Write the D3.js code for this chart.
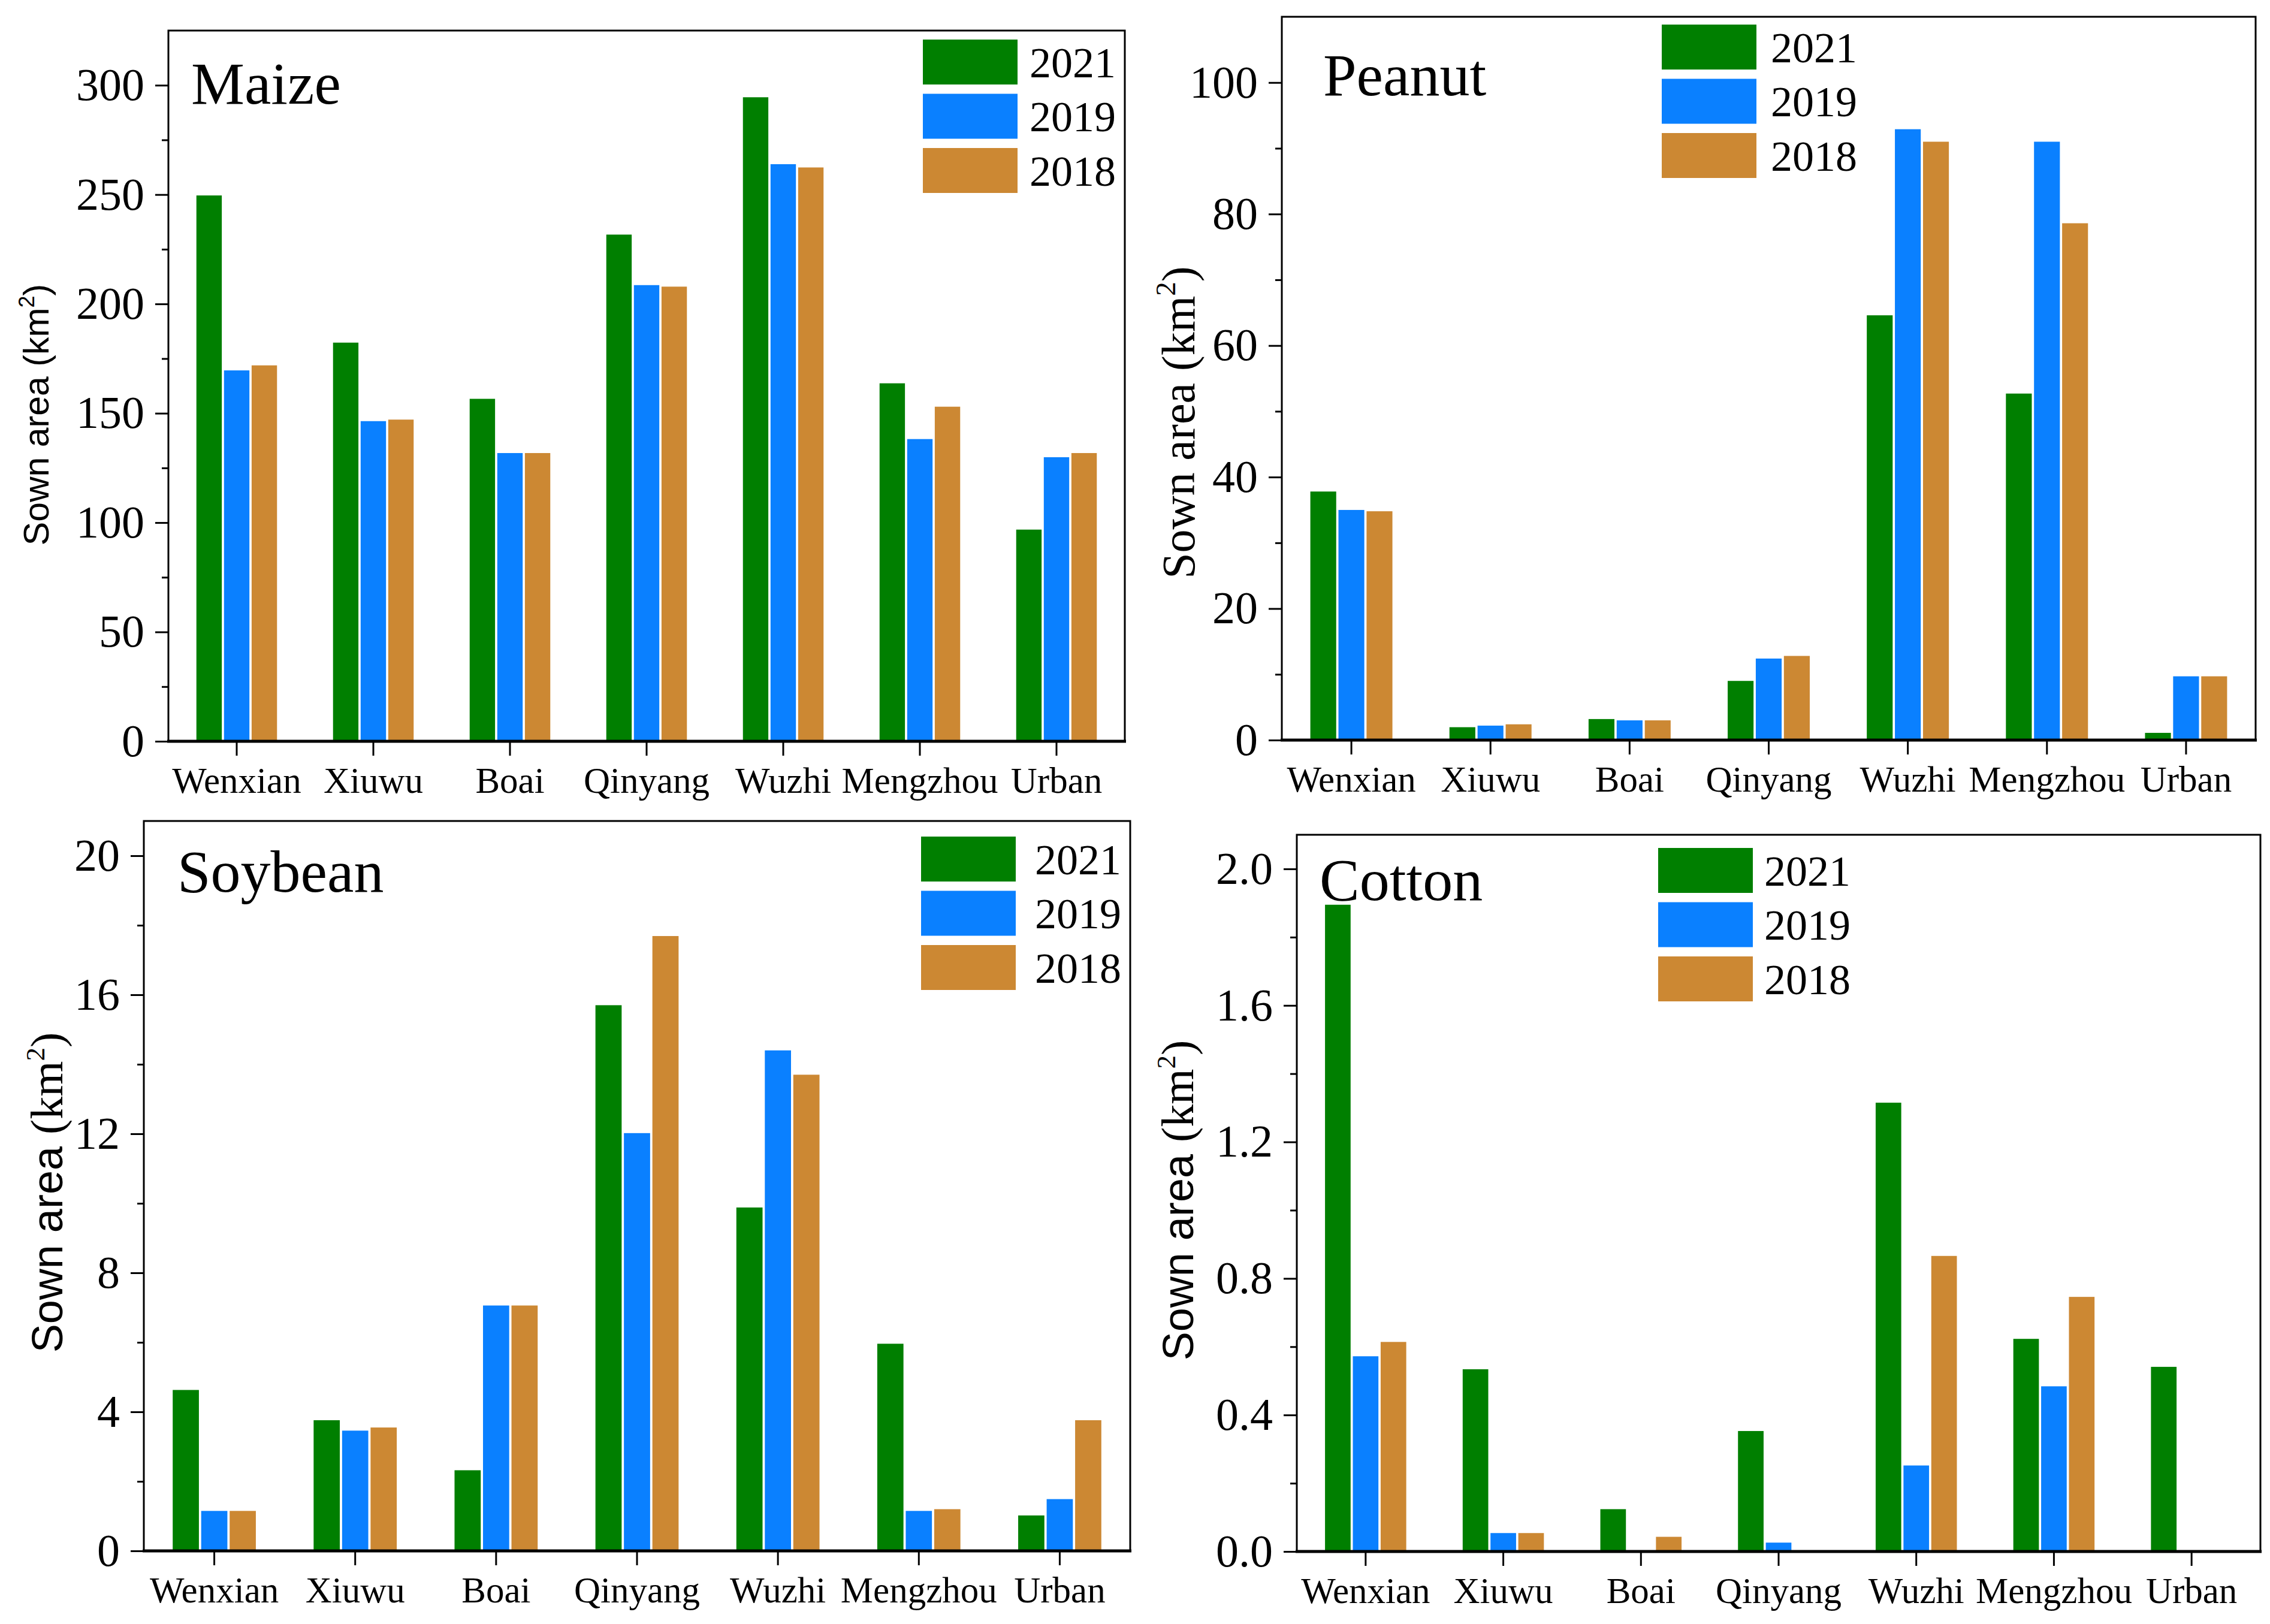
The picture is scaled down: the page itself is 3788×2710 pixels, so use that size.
<!DOCTYPE html>
<html>
<head>
<meta charset="utf-8">
<script src="https://cdn.jsdelivr.net/npm/d3@7"></script>
<style>
  body { margin: 0; background: #fff; }
  text { fill: #000; }
</style>
</head>
<body>
<div id="vis"></div>
<script>
const W = 3788, H = 2710;

// categories and series
const counties = ["Wenxian", "Xiuwu", "Boai", "Qinyang", "Wuzhi", "Mengzhou", "Urban"];
const years = ["2021", "2019", "2018"];
const colors = ["#007f00", "#0a80ff", "#cc8833"];

// sown area values (km2)
const maize2021 = [249.6, 182.3, 156.6, 231.7, 294.5, 163.7, 96.8];
const maize2019 = [169.6, 146.4, 131.8, 208.6, 263.9, 138.2, 129.9];
const maize2018 = [171.9, 147.1, 131.8, 207.9, 262.4, 153.0, 131.8];

const peanut2021 = [37.8, 1.96, 3.2, 9.0, 64.6, 52.7, 1.1];
const peanut2019 = [35.0, 2.2, 3.0, 12.4, 92.9, 91.0, 9.7];
const peanut2018 = [34.8, 2.4, 3.0, 12.8, 91.0, 78.6, 9.7];

const soybean2021 = [4.63, 3.76, 2.32, 15.7, 9.88, 5.96, 1.02];
const soybean2019 = [1.15, 3.46, 7.06, 12.02, 14.4, 1.15, 1.49];
const soybean2018 = [1.15, 3.55, 7.06, 17.69, 13.7, 1.2, 3.76];

const cotton2021 = [1.895, 0.534, 0.124, 0.353, 1.315, 0.623, 0.541];
const cotton2019 = [0.572, 0.054, 0, 0.026, 0.252, 0.484, 0];
const cotton2018 = [0.614, 0.054, 0.043, 0, 0.866, 0.746, 0];

// y axis ticks
const maizeTicks = [0, 50, 100, 150, 200, 250, 300];
const peanutTicks = [0, 20, 40, 60, 80, 100];
const soybeanTicks = [0, 4, 8, 12, 16, 20];
const cottonTicks = [0, 0.4, 0.8, 1.2, 1.6, 2.0];
const yMax = [325, 110, 21, 2.1];

const serif = "'Liberation Serif', 'Times New Roman', serif";
const sans = "'Liberation Sans', Arial, sans-serif";

// layout of the four panels
const panels = [
  {title: "Maize", series: [maize2021, maize2019, maize2018], ticks: maizeTicks, fmt: d3.format("d"),
   box: {l: 281, r: 1877, t: 51, b: 1237}, tx: 319, ty: 173,
   leg: {x: 1540, y: 66, tx: 1718}, ylab: {x: 60, y: 692, mode: "sans"}},
  {title: "Peanut", series: [peanut2021, peanut2019, peanut2018], ticks: peanutTicks, fmt: d3.format("d"),
   box: {l: 2139, r: 3764, t: 28, b: 1235}, tx: 2208, ty: 159,
   leg: {x: 2773, y: 41, tx: 2955}, ylab: {x: 1966, y: 705, mode: "serif"}},
  {title: "Soybean", series: [soybean2021, soybean2019, soybean2018], ticks: soybeanTicks, fmt: d3.format("d"),
   box: {l: 240, r: 1886, t: 1370, b: 2588}, tx: 296, ty: 1488,
   leg: {x: 1537, y: 1396, tx: 1727}, ylab: {x: 79, y: 1990, mode: "mixed"}},
  {title: "Cotton", series: [cotton2021, cotton2019, cotton2018], ticks: cottonTicks, fmt: d3.format(".1f"),
   box: {l: 2164, r: 3772, t: 1393, b: 2589}, tx: 2202, ty: 1502,
   leg: {x: 2767, y: 1415, tx: 2944}, ylab: {x: 1966, y: 2003, mode: "mixed"}}
];

const svg = d3.select("#vis").append("svg")
  .attr("width", W).attr("height", H)
  .attr("viewBox", `0 0 ${W} ${H}`);

svg.append("rect").attr("width", W).attr("height", H).attr("fill", "#fff");

panels.forEach((p, pi) => {
  const g = svg.append("g");
  const b = p.box;

  const x0 = d3.scaleBand().domain(counties).range([b.l, b.r]).padding(0);
  const groupW = x0.step() * 0.59;
  const x1 = d3.scaleBand().domain(years).range([-groupW / 2, groupW / 2]).paddingInner(0.08);
  const y = d3.scaleLinear().domain([0, yMax[pi]]).range([b.b, b.t]);

  // bars
  p.series.forEach((vals, si) => {
    g.append("g").selectAll("rect")
      .data(vals)
      .join("rect")
      .attr("x", (d, i) => x0(counties[i]) + x0.bandwidth() / 2 + x1(years[si]))
      .attr("y", d => y(d))
      .attr("width", x1.bandwidth())
      .attr("height", d => y(0) - y(d))
      .attr("fill", colors[si]);
  });

  // minor ticks halfway between majors
  const minor = d3.pairs(p.ticks).map(([a, c]) => (a + c) / 2);
  const last = p.ticks[p.ticks.length - 1], stepT = p.ticks[1] - p.ticks[0];
  if (last + stepT / 2 < yMax[pi] - 1e-9) minor.push(last + stepT / 2);

  g.append("g")
    .attr("transform", `translate(${b.l},0)`)
    .call(d3.axisLeft(y).tickValues(minor).tickSize(11).tickFormat(""))
    .call(a => a.select(".domain").remove())
    .call(a => a.selectAll("line").attr("stroke-width", 3));

  g.append("g")
    .attr("transform", `translate(${b.l},0)`)
    .call(d3.axisLeft(y).tickValues(p.ticks).tickSize(22).tickPadding(18).tickFormat(p.fmt))
    .call(a => a.select(".domain").remove())
    .call(a => a.selectAll("line").attr("stroke-width", 3))
    .call(a => a.selectAll("text").attr("font-family", serif).attr("font-size", 76).attr("fill", "#000"));

  g.append("g")
    .attr("transform", `translate(0,${b.b})`)
    .call(d3.axisBottom(x0).tickSize(24).tickPadding(19))
    .call(a => a.select(".domain").remove())
    .call(a => a.selectAll("line").attr("stroke-width", 3))
    .call(a => a.selectAll("text").attr("font-family", serif).attr("font-size", 61).attr("fill", "#000"));

  // frame
  g.append("rect")
    .attr("x", b.l).attr("y", b.t)
    .attr("width", b.r - b.l).attr("height", b.b - b.t)
    .attr("fill", "none").attr("stroke", "#000").attr("stroke-width", 3);
  g.append("line")
    .attr("x1", b.l - 2).attr("x2", b.r + 2).attr("y1", b.b).attr("y2", b.b)
    .attr("stroke", "#000").attr("stroke-width", 5);

  // panel title
  g.append("text")
    .attr("x", p.tx).attr("y", p.ty)
    .attr("font-family", serif).attr("font-size", 100)
    .text(p.title);

  // legend
  const leg = g.append("g");
  years.forEach((yr, i) => {
    leg.append("rect")
      .attr("x", p.leg.x).attr("y", p.leg.y + i * 90.5)
      .attr("width", 158).attr("height", 75)
      .attr("fill", colors[i]);
    leg.append("text")
      .attr("x", p.leg.tx).attr("y", p.leg.y + i * 90.5 + 37.5 + 25)
      .attr("font-family", serif).attr("font-size", 72)
      .text(yr);
  });

  // y axis label
  const yl = g.append("text")
    .attr("transform", `translate(${p.ylab.x},${p.ylab.y}) rotate(-90)`)
    .attr("text-anchor", "middle")
    .attr("dy", "0.35em");
  if (p.ylab.mode === "sans") {
    yl.attr("font-family", sans).attr("font-size", 59);
    yl.append("tspan").text("Sown area (km");
    yl.append("tspan").attr("font-size", 36).attr("dy", -24).text("2");
    yl.append("tspan").attr("dy", 24).text(")");
  } else if (p.ylab.mode === "serif") {
    yl.attr("font-family", serif).attr("font-size", 78);
    yl.append("tspan").text("Sown area (km");
    yl.append("tspan").attr("font-size", 47).attr("dy", -32).text("2");
    yl.append("tspan").attr("dy", 32).text(")");
  } else {
    yl.attr("font-size", 72);
    yl.append("tspan").attr("font-family", sans).text("Sown area ");
    yl.append("tspan").attr("font-family", serif).attr("font-size", 76).text("(km");
    yl.append("tspan").attr("font-family", serif).attr("font-size", 45).attr("dy", -30).text("2");
    yl.append("tspan").attr("font-family", serif).attr("font-size", 76).attr("dy", 30).text(")");
  }
});
</script>
</body>
</html>
